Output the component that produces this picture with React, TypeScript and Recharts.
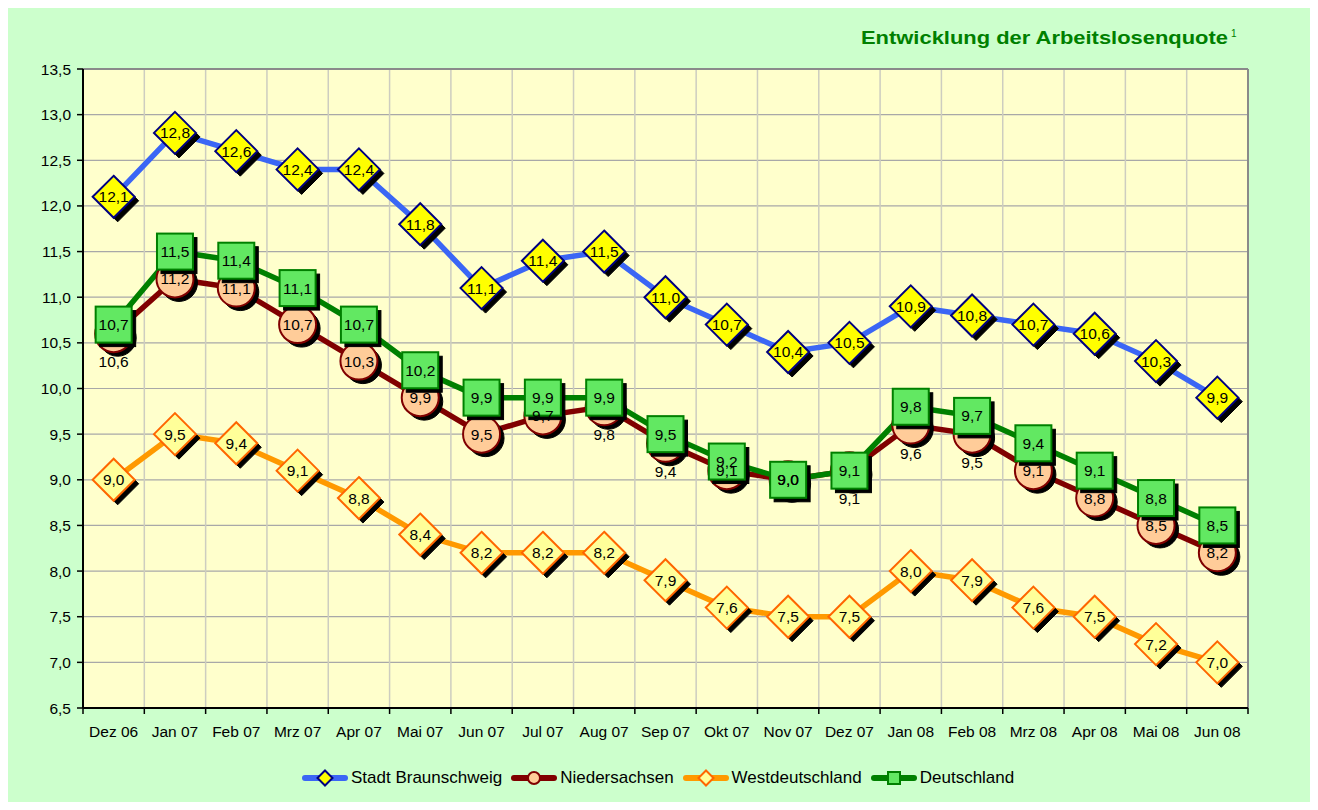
import React from 'react';
import { LineChart, Line, XAxis, YAxis, CartesianGrid, Legend, LabelList } from 'recharts';

const months = ['Dez 06', 'Jan 07', 'Feb 07', 'Mrz 07', 'Apr 07', 'Mai 07', 'Jun 07', 'Jul 07', 'Aug 07', 'Sep 07', 'Okt 07', 'Nov 07', 'Dez 07', 'Jan 08', 'Feb 08', 'Mrz 08', 'Apr 08', 'Mai 08', 'Jun 08'];
const stadtBraunschweig = [12.1, 12.8, 12.6, 12.4, 12.4, 11.8, 11.1, 11.4, 11.5, 11.0, 10.7, 10.4, 10.5, 10.9, 10.8, 10.7, 10.6, 10.3, 9.9];
const niedersachsen = [10.6, 11.2, 11.1, 10.7, 10.3, 9.9, 9.5, 9.7, 9.8, 9.4, 9.1, 9.0, 9.1, 9.6, 9.5, 9.1, 8.8, 8.5, 8.2];
const westdeutschland = [9.0, 9.5, 9.4, 9.1, 8.8, 8.4, 8.2, 8.2, 8.2, 7.9, 7.6, 7.5, 7.5, 8.0, 7.9, 7.6, 7.5, 7.2, 7.0];
const deutschland = [10.7, 11.5, 11.4, 11.1, 10.7, 10.2, 9.9, 9.9, 9.9, 9.5, 9.2, 9.0, 9.1, 9.8, 9.7, 9.4, 9.1, 8.8, 8.5];
const yTicks = [6.5, 7, 7.5, 8, 8.5, 9, 9.5, 10, 10.5, 11, 11.5, 12, 12.5, 13, 13.5];
const seriesNames = ['Stadt Braunschweig', 'Niedersachsen', 'Westdeutschland', 'Deutschland'];
const niedersachsenLabelsBelow = ['Dez 06', 'Aug 07', 'Sep 07', 'Dez 07', 'Jan 08', 'Feb 08'];
const titleText = 'Entwicklung der Arbeitslosenquote';
const titleNote = '1';

const data = months.map((m, i) => ({
  month: m,
  bs: stadtBraunschweig[i],
  ni: niedersachsen[i],
  wd: westdeutschland[i],
  de: deutschland[i],
}));

const FONT = 'Liberation Sans, Arial, Helvetica, sans-serif';
const fmt = (v: number) => Number(v).toFixed(1).replace('.', ',');

const CHART_W = 1318;
const CHART_H = 810;
const MARGIN = { top: 69, right: 70, left: 23, bottom: 72 };
const Y_AXIS_W = 60;
const PLOT_W = CHART_W - MARGIN.left - MARGIN.right - Y_AXIS_W;
const HALF_BAND = PLOT_W / months.length / 2;

type Kind = 'diamond' | 'circle' | 'square';
interface SeriesStyle {
  key: 'bs' | 'ni' | 'wd' | 'de';
  line: string;
  kind: Kind;
  size: number;
  fill: string;
  stroke: string;
}

const styles: SeriesStyle[] = [
  { key: 'bs', line: '#3B66F5', kind: 'diamond', size: 42, fill: '#FFFF00', stroke: '#000080' },
  { key: 'ni', line: '#800000', kind: 'circle', size: 37, fill: '#FFCC99', stroke: '#800000' },
  { key: 'wd', line: '#FF9900', kind: 'diamond', size: 42, fill: '#FFFF99', stroke: '#FF6600' },
  { key: 'de', line: '#008000', kind: 'square', size: 36, fill: '#62E862', stroke: '#008000' },
];

function Shape({ kind, cx, cy, size, fill, stroke, sw }: { kind: Kind; cx: number; cy: number; size: number; fill: string; stroke: string; sw: number }) {
  const h = size / 2;
  if (kind === 'diamond') {
    return <polygon points={`${cx},${cy - h} ${cx + h},${cy} ${cx},${cy + h} ${cx - h},${cy}`} fill={fill} stroke={stroke} strokeWidth={sw} strokeLinejoin="miter" />;
  }
  if (kind === 'circle') {
    return <circle cx={cx} cy={cy} r={h} fill={fill} stroke={stroke} strokeWidth={sw} />;
  }
  return <rect x={cx - h} y={cy - h} width={size} height={size} fill={fill} stroke={stroke} strokeWidth={sw} />;
}

const makeDot = (s: SeriesStyle) => (props: any) => {
  const { cx, cy, index } = props;
  if (cx == null || cy == null) return <g key={`${s.key}-${index}`} />;
  return (
    <g key={`${s.key}-${index}`}>
      <Shape kind={s.kind} cx={cx + 4} cy={cy + 4} size={s.size} fill="#000" stroke="#000" sw={1} />
      <Shape kind={s.kind} cx={cx} cy={cy} size={s.size} fill={s.fill} stroke={s.stroke} sw={2} />
    </g>
  );
};

const makeLabel = (below: string[] | null) => (props: any) => {
  const { x, y, value, index } = props;
  if (x == null || y == null) return null;
  const isBelow = below ? below.includes(months[index]) : false;
  return (
    <text
      x={x}
      y={y + (isBelow ? 28 : 0)}
      textAnchor="middle"
      dominantBaseline="central"
      fontSize={15.5}
      fontFamily={FONT}
      fill="#000"
    >
      {fmt(value)}
    </text>
  );
};

const XTick = (props: any) => {
  const { x, y, payload, index } = props;
  const left = x - HALF_BAND;
  return (
    <g>
      <line x1={left} y1={y} x2={left} y2={y + 6} stroke="#000" strokeWidth={1.5} />
      {index === months.length - 1 && <line x1={x + HALF_BAND} y1={y} x2={x + HALF_BAND} y2={y + 6} stroke="#000" strokeWidth={1.5} />}
      <text x={x} y={y + 23.5} textAnchor="middle" dominantBaseline="central" fontSize={15.5} fontFamily={FONT} fill="#000">
        {payload.value}
      </text>
    </g>
  );
};

const LegendIcon = ({ s }: { s: SeriesStyle }) => {
  const small: Record<Kind, number> = { diamond: 15, circle: 12, square: 12 };
  return (
    <svg width={46} height={20} style={{ display: 'block' }}>
      <line x1={3} y1={10} x2={43} y2={10} stroke={s.line} strokeWidth={6} strokeLinecap="round" />
      <Shape kind={s.kind} cx={23} cy={10} size={small[s.kind]} fill={s.fill} stroke={s.stroke} sw={2} />
    </svg>
  );
};

const renderLegend = () => (
  <div style={{ display: 'flex', alignItems: 'center', fontFamily: FONT, fontSize: 17, color: '#000' }}>
    {styles.map((s, i) => (
      <div key={s.key} style={{ display: 'flex', alignItems: 'center', marginRight: 9 }}>
        <LegendIcon s={s} />
        <span style={{ marginLeft: 3, whiteSpace: 'nowrap' }}>{seriesNames[i]}</span>
      </div>
    ))}
  </div>
);

export default function App() {
  return (
    <div style={{ position: 'relative', width: CHART_W, height: CHART_H, margin: -8, overflow: 'hidden', background: '#fff' }}>
      <div
        style={{
          position: 'absolute',
          left: 3,
          top: 4,
          width: 1311,
          height: 805,
          boxSizing: 'border-box',
          border: '2px solid #1a1a1a',
          background: '#CCFFCC',
        }}
      />
      <svg style={{ position: 'absolute', left: 0, top: 0 }} width={CHART_W} height={60}>
        <text x={861} y={44} fontSize={18} fontWeight="bold" fontFamily={FONT} fill="#008000" textLength={367} lengthAdjust="spacingAndGlyphs">
          {titleText}
        </text>
        <text x={1231} y={37} fontSize={10} fontFamily={FONT} fill="#008000">
          {titleNote}
        </text>
      </svg>
      <div style={{ position: 'absolute', left: 0, top: 0 }}>
        <LineChart width={CHART_W} height={CHART_H} data={data} margin={MARGIN}>
          <CartesianGrid horizontal={true} vertical={false} stroke="#A8A8A8" strokeWidth={1.2} fill="#FFFFCC" fillOpacity={1} />
          <CartesianGrid
            horizontal={false}
            vertical={true}
            stroke="#CDCDC0"
            strokeWidth={1.5}
            verticalCoordinatesGenerator={({ offset }: any) =>
              months.map((_, i) => offset.left + ((i + 1) * offset.width) / months.length).slice(0, months.length - 1)
            }
          />
          <CartesianGrid
            horizontal={true}
            vertical={true}
            stroke="#8A8A8A"
            strokeWidth={2}
            horizontalCoordinatesGenerator={({ offset }: any) => [offset.top]}
            verticalCoordinatesGenerator={({ offset }: any) => [offset.left + offset.width]}
          />
          <XAxis
            dataKey="month"
            height={30}
            tickLine={false}
            tickSize={0}
            tickMargin={0}
            interval={0}
            padding={{ left: HALF_BAND, right: HALF_BAND }}
            axisLine={{ stroke: '#000', strokeWidth: 2 }}
            tick={<XTick />}
          />
          <YAxis
            width={Y_AXIS_W}
            domain={[6.5, 13.5]}
            ticks={yTicks}
            type="number"
            allowDataOverflow
            tickFormatter={fmt}
            tickSize={6}
            tickMargin={6}
            axisLine={{ stroke: '#000', strokeWidth: 2 }}
            tickLine={{ stroke: '#000', strokeWidth: 1.5 }}
            tick={{ fill: '#000', fontSize: 15.5, fontFamily: FONT }}
          />
          <Legend
            layout="horizontal"
            verticalAlign="middle"
            align="center"
            content={renderLegend}
            wrapperStyle={{ top: 768, left: 302, width: 800, height: 22 }}
          />
          {styles.map((s) => (
            <Line
              key={s.key}
              type="linear"
              dataKey={s.key}
              stroke={s.line}
              strokeWidth={5.5}
              dot={makeDot(s)}
              activeDot={false}
              isAnimationActive={false}
            />
          ))}
          {styles.map((s) => (
            <Line
              key={`lbl-${s.key}`}
              type="linear"
              dataKey={s.key}
              stroke="none"
              dot={false}
              activeDot={false}
              legendType="none"
              isAnimationActive={false}
            >
              <LabelList dataKey={s.key} content={makeLabel(s.key === 'ni' ? niedersachsenLabelsBelow : null)} />
            </Line>
          ))}
        </LineChart>
      </div>
    </div>
  );
}
